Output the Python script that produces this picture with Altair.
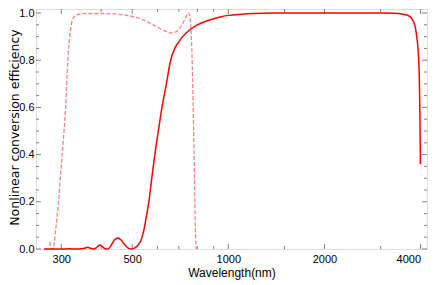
import altair as alt
import pandas as pd

# Solid curve (red)
solid_wl = [265, 290, 320, 340, 352, 363, 372, 380, 388, 396, 404, 412, 420, 428, 440, 451,
            462, 474, 486, 496, 502, 510, 520, 532, 545, 555, 564, 576, 589, 604, 620, 640,
            660, 680, 700, 720, 760, 800, 850, 900, 950, 1000, 1100, 1200, 1400, 2000,
            3000, 3300, 3500, 3650, 3760, 3850, 3900, 3940, 3965, 3980, 3990, 3995]
solid_val = [0.0, 0.0, 0.001, 0.0, 0.002, 0.007, 0.002, 0.0, 0.008, 0.017, 0.009, 0.001, 0.0,
             0.012, 0.038, 0.047, 0.038, 0.018, 0.004, 0.0, 0.001, 0.005, 0.015, 0.034, 0.085,
             0.145, 0.2, 0.3, 0.4, 0.5, 0.6, 0.7, 0.8, 0.85, 0.878, 0.9,
             0.93, 0.95, 0.965, 0.976, 0.984, 0.99, 0.995, 0.998, 1.0, 1.0, 1.0, 0.999, 0.996,
             0.99, 0.975, 0.94, 0.89, 0.82, 0.72, 0.58, 0.45, 0.36]

# Dashed curve (light red)
dash_wl = [276, 279, 283, 288, 294, 299, 304, 309.5, 314.5, 320, 325, 333, 347, 370, 400, 440,
           480, 520, 560, 600, 630, 658, 685, 706, 731, 750, 757, 764, 770, 776, 781, 786, 790, 794]
dash_val = [0.03, 0.0, 0.0, 0.08, 0.2, 0.33, 0.45, 0.6, 0.8, 0.92, 0.97, 0.99, 0.997, 0.998,
            0.998, 0.996, 0.99, 0.98, 0.962, 0.94, 0.925, 0.916, 0.92, 0.937, 0.972, 1.0, 0.99,
            0.93, 0.82, 0.62, 0.42, 0.2, 0.05, 0.0]

x_major = [300, 500, 1000, 2000, 4000]
x_minor = [400, 600, 700, 800, 900, 1500, 3000]
y_major = [0.0, 0.2, 0.4, 0.6, 0.8, 1.0]
y_minor = [0.05, 0.1, 0.15, 0.25, 0.3, 0.35, 0.45, 0.5, 0.55, 0.65, 0.7, 0.75, 0.85, 0.9, 0.95]

W, H = 391, 240
FONT = "Liberation Sans"
GRAY = "#808080"

xscale = alt.Scale(type="log", domain=[250, 4190], nice=False)
yscale = alt.Scale(domain=[0, 1.017], nice=False, zero=False)

xaxis = alt.Axis(values=x_major, format="d", ticks=False, domain=False, grid=False,
                 labelFont=FONT, labelFontSize=11, labelColor="#000", labelPadding=4,
                 labelFlush=10, labelFlushOffset=0,
                 title="Wavelength(nm)", titleFont=FONT, titleFontSize=12,
                 titleFontWeight="normal", titlePadding=3, titleColor="#000")
yaxis = alt.Axis(values=y_major, format=".1f", ticks=False, domain=False, grid=False,
                 labelFont=FONT, labelFontSize=11, labelColor="#000", labelPadding=2,
                 title="Nonlinear conversion efficiency", titleFont="DejaVu Sans",
                 titleFontSize=12.5, titleFontWeight="normal", titleColor="#000",
                 titleAngle=270, titleX=-27.5, titleY=118, titleBaseline="top",
                 titleAlign="center")

solid_df = pd.DataFrame({"wl": solid_wl, "val": solid_val})
dash_df = pd.DataFrame({"wl": dash_wl, "val": dash_val})

solid = alt.Chart(solid_df).mark_line(color="#ff0000", strokeWidth=1.5, interpolate="monotone").encode(
    x=alt.X("wl:Q", scale=xscale, axis=xaxis),
    y=alt.Y("val:Q", scale=yscale, axis=yaxis),
)
dashed = alt.Chart(dash_df).mark_line(color="#ff8080", strokeWidth=1.3, strokeDash=[4, 2],
                                      interpolate="monotone").encode(
    x=alt.X("wl:Q", scale=xscale),
    y=alt.Y("val:Q", scale=yscale),
)

def xticks(vals, length):
    d = pd.DataFrame({"t": vals})
    base = alt.Chart(d).mark_rule(color=GRAY, strokeWidth=1)
    bottom = base.encode(x=alt.X("t:Q", scale=xscale), y=alt.value(H), y2=alt.value(H - length))
    top = base.encode(x=alt.X("t:Q", scale=xscale), y=alt.value(0), y2=alt.value(length))
    return [bottom, top]

def yticks(vals, length):
    d = pd.DataFrame({"t": vals})
    base = alt.Chart(d).mark_rule(color=GRAY, strokeWidth=1)
    left = base.encode(y=alt.Y("t:Q", scale=yscale), x=alt.value(0), x2=alt.value(length))
    right = base.encode(y=alt.Y("t:Q", scale=yscale), x=alt.value(W), x2=alt.value(W - length))
    return [left, right]

layers = (xticks(x_major, 5) + xticks(x_minor, 3) + yticks(y_major, 5) + yticks(y_minor, 3)
          + [dashed, solid])

chart = alt.layer(*layers).properties(
    width=W, height=H,
    autosize=alt.AutoSizeParams(type="none"),
    padding={"left": 28, "top": 1, "right": 1, "bottom": 33},
).configure_view(stroke=GRAY, strokeWidth=1).configure(background="white")

chart.save("out.html", embed_options={"renderer": "svg", "actions": False})
